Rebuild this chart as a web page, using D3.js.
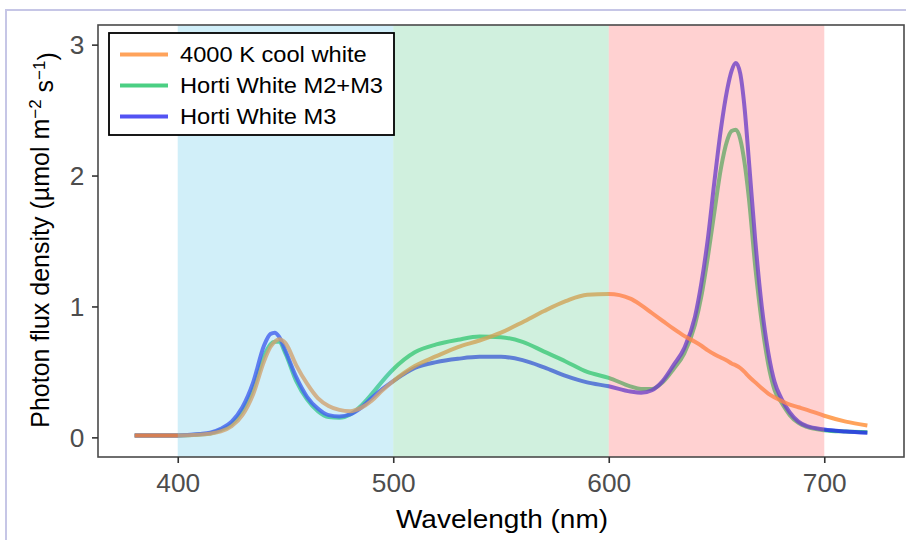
<!DOCTYPE html>
<html>
<head>
<meta charset="utf-8">
<script src="https://cdn.jsdelivr.net/npm/d3@7"></script>
<style>
  body { margin: 0; background: #fff; }
  svg { display: block; font-family: "Liberation Sans", Arial, Helvetica, sans-serif; }
</style>
</head>
<body>
<svg id="chart" width="906" height="540"></svg>
<script>
// wavelength grid (nm), shared by all three spectra
const wavelengths = [380, 390, 400, 410, 415, 420, 425, 430, 435, 440, 443, 445, 447, 450, 455, 460, 465, 470, 475, 480,
    485, 490, 495, 500, 510, 520, 530, 540, 550, 560, 570, 580, 590, 600, 610, 615, 620, 625, 630, 635,
    640, 643, 646, 649, 652, 655, 657, 659, 661, 663, 665, 668, 671, 674, 677, 680, 684, 688, 692, 700, 710, 720];

const coolWhite = [0.015, 0.015, 0.015, 0.02, 0.028, 0.045, 0.085, 0.17, 0.33, 0.58, 0.69, 0.73, 0.75, 0.72, 0.55, 0.41, 0.30, 0.24, 0.21, 0.20,
    0.225, 0.28, 0.36, 0.43, 0.545, 0.62, 0.69, 0.74, 0.80, 0.88, 0.965, 1.04, 1.09, 1.095, 1.06, 1.01, 0.95, 0.89, 0.83, 0.775,
    0.73, 0.70, 0.665, 0.635, 0.61, 0.585, 0.565, 0.55, 0.53, 0.50, 0.465, 0.42, 0.375, 0.335, 0.305, 0.28, 0.25, 0.23, 0.21, 0.165, 0.12, 0.09];

const hortiM2M3 = [0.015, 0.015, 0.015, 0.022, 0.03, 0.055, 0.10, 0.20, 0.37, 0.62, 0.71, 0.73, 0.73, 0.64, 0.43, 0.29, 0.20, 0.155, 0.15, 0.175,
    0.24, 0.33, 0.43, 0.52, 0.65, 0.71, 0.745, 0.77, 0.765, 0.73, 0.655, 0.58, 0.50, 0.455, 0.39, 0.37, 0.37, 0.42, 0.52, 0.64,
    0.86, 1.08, 1.38, 1.72, 2.05, 2.27, 2.34, 2.35, 2.28, 2.10, 1.83, 1.30, 0.88, 0.56, 0.36, 0.27, 0.17, 0.11, 0.08, 0.055, 0.045, 0.04];

const hortiM3 = [0.015, 0.015, 0.015, 0.025, 0.035, 0.065, 0.12, 0.23, 0.42, 0.70, 0.79, 0.80, 0.77, 0.66, 0.46, 0.31, 0.22, 0.17, 0.16, 0.175,
    0.225, 0.30, 0.37, 0.43, 0.53, 0.575, 0.60, 0.615, 0.615, 0.59, 0.535, 0.47, 0.42, 0.39, 0.35, 0.34, 0.36, 0.43, 0.55, 0.68,
    0.92, 1.18, 1.52, 1.95, 2.35, 2.66, 2.80, 2.86, 2.78, 2.52, 2.12, 1.50, 1.00, 0.65, 0.42, 0.30, 0.19, 0.12, 0.085, 0.06, 0.045, 0.035];

const seriesNames = ['4000 K cool white', 'Horti White M2+M3', 'Horti White M3'];
const seriesColors = ['#ff8c32', '#1ec364', '#2828f0'];

// the wavelength bands are translucent and sit over the lines
const bands = [[400, 500], [500, 600], [600, 700]];
const bandColors = ['#79d1ee', '#75d39e', '#ff7878'];

const xTicks = [400, 500, 600, 700];
const yTicks = [0, 1, 2, 3];

const svg = d3.select('#chart');

// outer lavender frame
svg.append('rect')
    .attr('x', 6).attr('y', 10)
    .attr('width', 1000).attr('height', 600)
    .attr('fill', 'none')
    .attr('stroke', '#c6c6e6')
    .attr('stroke-width', 2);

const panel = { left: 98, right: 904, top: 25, bottom: 457 };

const x = d3.scaleLinear().domain([363, 737]).range([panel.left, panel.right]);
const y = d3.scaleLinear().domain([-0.15, 3.15]).range([panel.bottom, panel.top]);

// spectra: green, blue, then orange on top
const series = [
    { name: seriesNames[1], color: seriesColors[1], values: hortiM2M3 },
    { name: seriesNames[2], color: seriesColors[2], values: hortiM3 },
    { name: seriesNames[0], color: seriesColors[0], values: coolWhite }
];

const line = d3.line()
    .x(d => x(d[0]))
    .y(d => y(d[1]))
    .curve(d3.curveMonotoneX);

svg.append('g').selectAll('path')
    .data(series)
    .enter().append('path')
    .attr('d', s => line(wavelengths.map((w, i) => [w, s.values[i]])))
    .attr('fill', 'none')
    .attr('stroke', s => s.color)
    .attr('stroke-width', 4)
    .attr('stroke-opacity', 0.8)
    .attr('stroke-linejoin', 'round')
    .attr('stroke-linecap', 'butt');

svg.append('g').selectAll('rect')
    .data(bands)
    .enter().append('rect')
    .attr('x', d => x(d[0]))
    .attr('y', panel.top)
    .attr('width', d => x(d[1]) - x(d[0]))
    .attr('height', panel.bottom - panel.top)
    .attr('fill', (d, i) => bandColors[i])
    .attr('fill-opacity', 0.34);

// panel border
svg.append('rect')
    .attr('x', panel.left).attr('y', panel.top)
    .attr('width', panel.right - panel.left)
    .attr('height', panel.bottom - panel.top)
    .attr('fill', 'none')
    .attr('stroke', '#4a4a4a')
    .attr('stroke-width', 1.6);

// axes
const xAxis = svg.append('g')
    .attr('transform', `translate(0,${panel.bottom})`)
    .call(d3.axisBottom(x).tickValues(xTicks).tickSize(6).tickPadding(5).tickFormat(d3.format('d')));

const yAxis = svg.append('g')
    .attr('transform', `translate(${panel.left},0)`)
    .call(d3.axisLeft(y).tickValues(yTicks).tickSize(6).tickPadding(7).tickFormat(d3.format('d')));

[xAxis, yAxis].forEach(ax => {
    ax.select('.domain').remove();
    ax.selectAll('.tick line').attr('stroke', '#333').attr('stroke-width', 1.6);
    ax.selectAll('.tick text')
        .attr('fill', '#4d4d4d')
        .style('font-size', '25px')
        .style('font-family', '"Liberation Sans", Arial, sans-serif');
});
xAxis.selectAll('.tick text').attr('transform', 'scale(1.05,1)').attr('dy', '0.95em');
yAxis.selectAll('.tick text').attr('transform', 'scale(1.05,1)').attr('dy', '0.36em');

// axis titles
svg.append('text')
    .attr('transform', `translate(${(panel.left + panel.right) / 2 + 1},528) scale(1.12,1)`)
    .attr('text-anchor', 'middle')
    .style('font-size', '25px')
    .attr('fill', '#000')
    .text('Wavelength (nm)');

const yTitle = svg.append('text')
    .attr('transform', `translate(49,${(panel.top + panel.bottom) / 2 - 1}) rotate(-90)`)
    .attr('text-anchor', 'middle')
    .style('font-size', '25px')
    .attr('fill', '#000');
yTitle.append('tspan').text('Photon flux density (µmol m');
yTitle.append('tspan').attr('dy', '-0.45em').style('font-size', '17px').text('−2');
yTitle.append('tspan').attr('dy', '0.45em').text(' s');
yTitle.append('tspan').attr('dy', '-0.45em').style('font-size', '17px').text('−1');
yTitle.append('tspan').attr('dy', '0.45em').text(')');

// legend
const legend = svg.append('g').attr('transform', 'translate(109,33)');
legend.append('rect')
    .attr('width', 285).attr('height', 102)
    .attr('fill', '#fff')
    .attr('stroke', '#000')
    .attr('stroke-width', 1.8);

const legendRows = legend.selectAll('.legend-row')
    .data(seriesNames)
    .enter().append('g')
    .attr('class', 'legend-row')
    .attr('transform', (d, i) => `translate(0,${21.5 + i * 31})`);

legendRows.append('line')
    .attr('x1', 11).attr('x2', 59)
    .attr('stroke', (d, i) => seriesColors[i])
    .attr('stroke-opacity', 0.8)
    .attr('stroke-width', 4);

legendRows.append('text')
    .attr('transform', 'translate(71,7.5) scale(1.1,1)')
    .style('font-size', '21.5px')
    .attr('fill', '#000')
    .text(d => d);
</script>
</body>
</html>
